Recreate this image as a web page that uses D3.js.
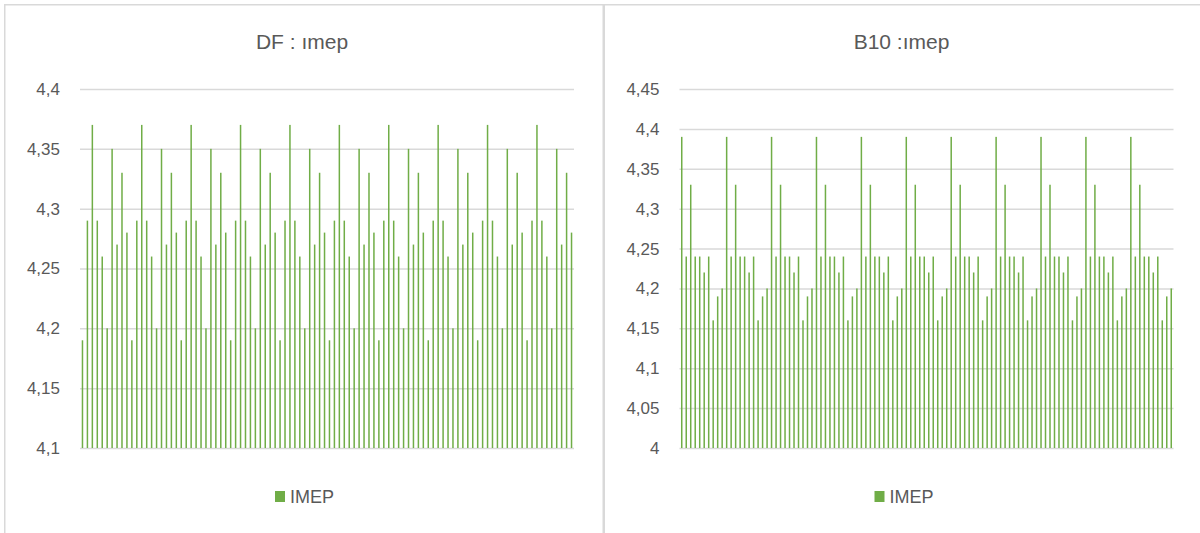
<!DOCTYPE html>
<html>
<head>
<meta charset="utf-8">
<script src="https://cdn.jsdelivr.net/npm/d3@7"></script>
<style>
	body { margin: 0; background: #fff; }
	svg text { font-family: "Liberation Sans", Arial, sans-serif; fill: #595959; }
</style>
</head>
<body>
<svg id="chart" width="1200" height="533"></svg>
<script>
//IMEP per cycle

const DF_TITLE = "DF : ımep";
const DF_VALUES = [
	4.19, 4.29, 4.37, 4.29, 4.26, 4.2, 4.35, 4.27, 4.33, 4.28,
	4.19, 4.29, 4.37, 4.29, 4.26, 4.2, 4.35, 4.27, 4.33, 4.28,
	4.19, 4.29, 4.37, 4.29, 4.26, 4.2, 4.35, 4.27, 4.33, 4.28,
	4.19, 4.29, 4.37, 4.29, 4.26, 4.2, 4.35, 4.27, 4.33, 4.28,
	4.19, 4.29, 4.37, 4.29, 4.26, 4.2, 4.35, 4.27, 4.33, 4.28,
	4.19, 4.29, 4.37, 4.29, 4.26, 4.2, 4.35, 4.27, 4.33, 4.28,
	4.19, 4.29, 4.37, 4.29, 4.26, 4.2, 4.35, 4.27, 4.33, 4.28,
	4.19, 4.29, 4.37, 4.29, 4.26, 4.2, 4.35, 4.27, 4.33, 4.28,
	4.19, 4.29, 4.37, 4.29, 4.26, 4.2, 4.35, 4.27, 4.33, 4.28,
	4.19, 4.29, 4.37, 4.29, 4.26, 4.2, 4.35, 4.27, 4.33, 4.28
];
const DF_TICKS = [4.1, 4.15, 4.2, 4.25, 4.3, 4.35, 4.4];

const B10_TITLE = "B10 :ımep";
const B10_VALUES = [
	4.39, 4.24, 4.33, 4.24, 4.24, 4.22, 4.24, 4.16, 4.19, 4.2,
	4.39, 4.24, 4.33, 4.24, 4.24, 4.22, 4.24, 4.16, 4.19, 4.2,
	4.39, 4.24, 4.33, 4.24, 4.24, 4.22, 4.24, 4.16, 4.19, 4.2,
	4.39, 4.24, 4.33, 4.24, 4.24, 4.22, 4.24, 4.16, 4.19, 4.2,
	4.39, 4.24, 4.33, 4.24, 4.24, 4.22, 4.24, 4.16, 4.19, 4.2,
	4.39, 4.24, 4.33, 4.24, 4.24, 4.22, 4.24, 4.16, 4.19, 4.2,
	4.39, 4.24, 4.33, 4.24, 4.24, 4.22, 4.24, 4.16, 4.19, 4.2,
	4.39, 4.24, 4.33, 4.24, 4.24, 4.22, 4.24, 4.16, 4.19, 4.2,
	4.39, 4.24, 4.33, 4.24, 4.24, 4.22, 4.24, 4.16, 4.19, 4.2,
	4.39, 4.24, 4.33, 4.24, 4.24, 4.22, 4.24, 4.16, 4.19, 4.2,
	4.39, 4.24, 4.33, 4.24, 4.24, 4.22, 4.24, 4.16, 4.19, 4.2
];
const B10_TICKS = [4, 4.05, 4.1, 4.15, 4.2, 4.25, 4.3, 4.35, 4.4, 4.45];

const SERIES_NAME = "IMEP";
const BAR_COLOR = "#70ad47";
const GRID_COLOR = "#d9d9d9";
const BAR_WIDTH = 1.5;

//Excel style numbers with decimal comma
const fmt = d3.formatLocale({decimal: ",", thousands: ".", grouping: [3], currency: ["", ""]}).format("~g");

const svg = d3.select("#chart");

//Draw one chart panel
function draw_panel(left, title, values, ticks)
{
	const g = svg.append("g").attr("transform", "translate(" + left + ",0)");

	//Panel frame
	g.append("rect")
		.attr("x", 4.75).attr("y", 4.75)
		.attr("width", 598.5).attr("height", 600)
		.attr("fill", "#fff")
		.attr("stroke", GRID_COLOR)
		.attr("stroke-width", 1.5);

	const x = d3.scaleBand()
		.domain(d3.range(values.length))
		.range([80, 574]);
	const y = d3.scaleLinear()
		.domain(d3.extent(ticks))
		.range([448, 89]);

	//Gridlines and tick labels
	const axis = g.append("g")
		.attr("transform", "translate(80,0)")
		.call(d3.axisLeft(y).tickValues(ticks).tickFormat(fmt).tickSize(-494).tickPadding(20));
	axis.select(".domain").remove();
	axis.selectAll(".tick line").attr("stroke", GRID_COLOR).attr("stroke-width", 1.5);
	axis.selectAll(".tick text")
		.attr("font-family", "Liberation Sans, Arial, sans-serif")
		.attr("font-size", 17)
		.attr("fill", "#595959");

	//Bars
	g.selectAll(".bar")
		.data(values)
		.enter()
		.append("rect")
		.attr("class", "bar")
		.attr("x", (d, i) => x(i) + x.bandwidth() / 2 - BAR_WIDTH / 2)
		.attr("y", d => y(d))
		.attr("width", BAR_WIDTH)
		.attr("height", d => y.range()[0] - y(d))
		.attr("fill", BAR_COLOR);

	//Title
	g.append("text")
		.attr("x", 302)
		.attr("y", 49)
		.attr("text-anchor", "middle")
		.attr("font-size", 21)
		.text(title);

	//Legend
	g.append("rect")
		.attr("x", 275).attr("y", 491)
		.attr("width", 10).attr("height", 11)
		.attr("fill", BAR_COLOR);
	g.append("text")
		.attr("x", 290)
		.attr("y", 503)
		.attr("font-size", 18)
		.text(SERIES_NAME);
}

draw_panel(0, DF_TITLE, DF_VALUES, DF_TICKS);
draw_panel(599.5, B10_TITLE, B10_VALUES, B10_TICKS);
</script>
</body>
</html>
